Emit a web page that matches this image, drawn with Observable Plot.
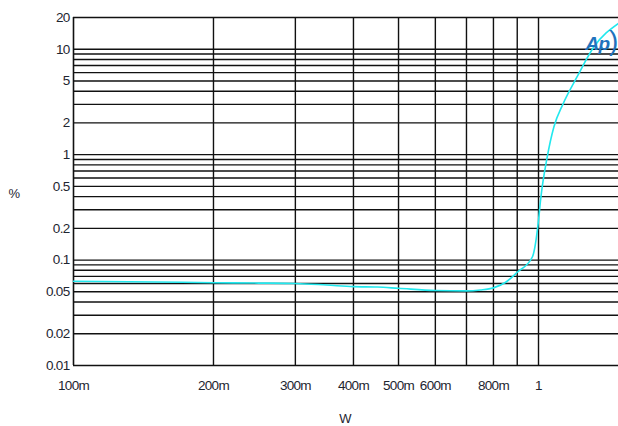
<!DOCTYPE html>
<html>
<head>
<meta charset="utf-8">
<script src="https://cdn.jsdelivr.net/npm/d3@7"></script>
<script src="https://cdn.jsdelivr.net/npm/@observablehq/plot@0.6"></script>
<style>
  html, body { margin: 0; padding: 0; background: #fff; }
  #chart svg { display: block; }
</style>
</head>
<body>
<div id="chart"></div>
<script>
// Curve data (W vs %)
const powerW = [0.1, 0.15, 0.2, 0.25, 0.3, 0.35, 0.4, 0.45, 0.5, 0.6, 0.7, 0.75, 0.8, 0.85, 0.9, 0.97, 1.0, 1.01, 1.044, 1.079, 1.13, 1.21, 1.315, 1.486];
const thdPct = [0.063, 0.062, 0.061, 0.0605, 0.060, 0.058, 0.056, 0.0555, 0.054, 0.0515, 0.051, 0.052, 0.0545, 0.0616, 0.0767, 0.107, 0.238, 0.368, 0.949, 1.83, 3.05, 5.46, 10.5, 17.6];

// Grid lines
const xGrid = [0.2, 0.3, 0.4, 0.5, 0.6, 0.7, 0.8, 0.9, 1];
const yGrid = [0.02, 0.03, 0.04, 0.05, 0.06, 0.07, 0.08, 0.09, 0.1, 0.2, 0.3, 0.4, 0.5, 0.6, 0.7, 0.8, 0.9, 1, 2, 3, 4, 5, 6, 7, 8, 9, 10, 20];

// Tick labels
const xTicks = [0.1, 0.2, 0.3, 0.4, 0.5, 0.6, 0.8, 1];
const xTickLabels = ["100m", "200m", "300m", "400m", "500m", "600m", "800m", "1"];
const yTicks = [0.01, 0.02, 0.05, 0.1, 0.2, 0.5, 1, 2, 5, 10, 20];
const yTickLabels = ["0.01", "0.02", "0.05", "0.1", "0.2", "0.5", "1", "2", "5", "10", "20"];

const curve = powerW.map((w, i) => ({w, p: thdPct[i]}));
const xLabelData = xTicks.map((t, i) => ({t, label: xTickLabels[i]}));
const yLabelData = yTicks.map((t, i) => ({t, label: yTickLabels[i]}));

const font = "'Liberation Sans Narrow', 'Arial Narrow', 'Liberation Sans', sans-serif";
const ink = "#1e2530";

const chart = Plot.plot({
  width: 618,
  height: 426,
  marginLeft: 73,
  marginRight: 0,
  marginTop: 17,
  marginBottom: 61,
  style: {fontFamily: font, fontSize: "13px", color: ink, background: "#fff", letterSpacing: "-0.7px"},
  x: {type: "log", domain: [0.1, 1.486], axis: null},
  y: {type: "log", domain: [0.01, 20], axis: null},
  marks: [
    Plot.ruleY(yGrid, {stroke: "#111", strokeWidth: 1.4}),
    Plot.ruleX(xGrid, {stroke: "#111", strokeWidth: 1.4}),
    Plot.ruleX([0.1], {stroke: "#111", strokeWidth: 1.6}),
    Plot.ruleY([0.01], {stroke: "#111", strokeWidth: 1.6}),
    Plot.text(xLabelData, {x: "t", frameAnchor: "bottom", lineAnchor: "middle", dy: 20, text: "label", fill: ink, fontSize: 13.5, clip: false}),
    Plot.text(yLabelData, {y: "t", frameAnchor: "left", dx: -4, textAnchor: "end", text: "label", fill: ink, fontSize: 13.5, clip: false}),
    Plot.line(curve, {x: "w", y: "p", stroke: "#22e8ee", strokeWidth: 1.6, curve: "monotone-x"}),
    Plot.text(["Ap"], {frameAnchor: "top-right", lineAnchor: "middle", dx: -9, dy: 26, text: d => d, fill: "#1f73bd", fontSize: 19, fontWeight: "bold", fontStyle: "italic"}),
    Plot.text([")"], {frameAnchor: "top-right", lineAnchor: "middle", dx: -1, dy: 24, text: d => d, fill: "#1f73bd", fontSize: 28})
  ]
});

// Axis titles as real text outside plot area (still within the SVG)
const svg = d3.select(chart);
svg.append("text").attr("x", 345).attr("y", 423).attr("text-anchor", "middle")
  .attr("font-family", font).attr("font-size", 13).attr("fill", ink).text("W");
svg.append("text").attr("x", 14).attr("y", 198).attr("text-anchor", "middle")
  .attr("font-family", font).attr("font-size", 13).attr("fill", ink).text("%");

document.getElementById("chart").append(chart);
</script>
</body>
</html>
